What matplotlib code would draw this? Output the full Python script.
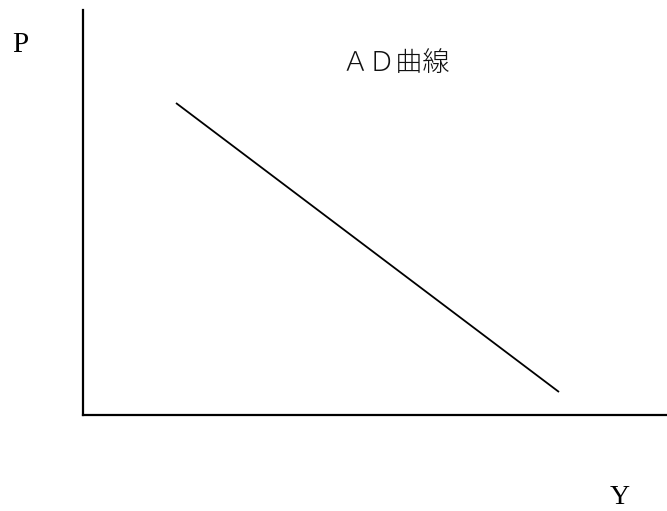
import matplotlib
matplotlib.use("Agg")
import matplotlib.pyplot as plt

# Data (in axis units, pixel-like scale)
ad_x = [93, 476]
ad_y = [312, 23]
curve_label = "ＡＤ曲線"
x_label = "Y"
y_label = "P"

W, H = 667, 511
fig = plt.figure(figsize=(W / 100, H / 100), dpi=100)
ax = fig.add_axes([83 / W, (H - 415) / H, (W - 83) / W, (415 - 10) / H])
ax.set_xlim(0, 584)
ax.set_ylim(0, 405)
ax.plot(ad_x, ad_y, color="black", linewidth=1.3, solid_capstyle="butt")
for s in ["top", "right"]:
    ax.spines[s].set_visible(False)
for s in ["left", "bottom"]:
    ax.spines[s].set_linewidth(1.6)
    ax.spines[s].set_color("black")
ax.set_xticks([])
ax.set_yticks([])

fig.text(20 / W, 1 - 45 / H, y_label, family=["Liberation Serif"], fontsize=21,
         ha="center", va="center")
fig.text(620 / W, 1 - 497 / H, x_label, family=["Liberation Serif"], fontsize=20,
         ha="center", va="center")
fig.text(396 / W, 1 - 63 / H, curve_label,
         family=["Noto Sans CJK JP", "DejaVu Sans"], fontsize=19.5,
         ha="center", va="center", fontweight="light", color="#111111")

fig.savefig("out.png", dpi=100)
